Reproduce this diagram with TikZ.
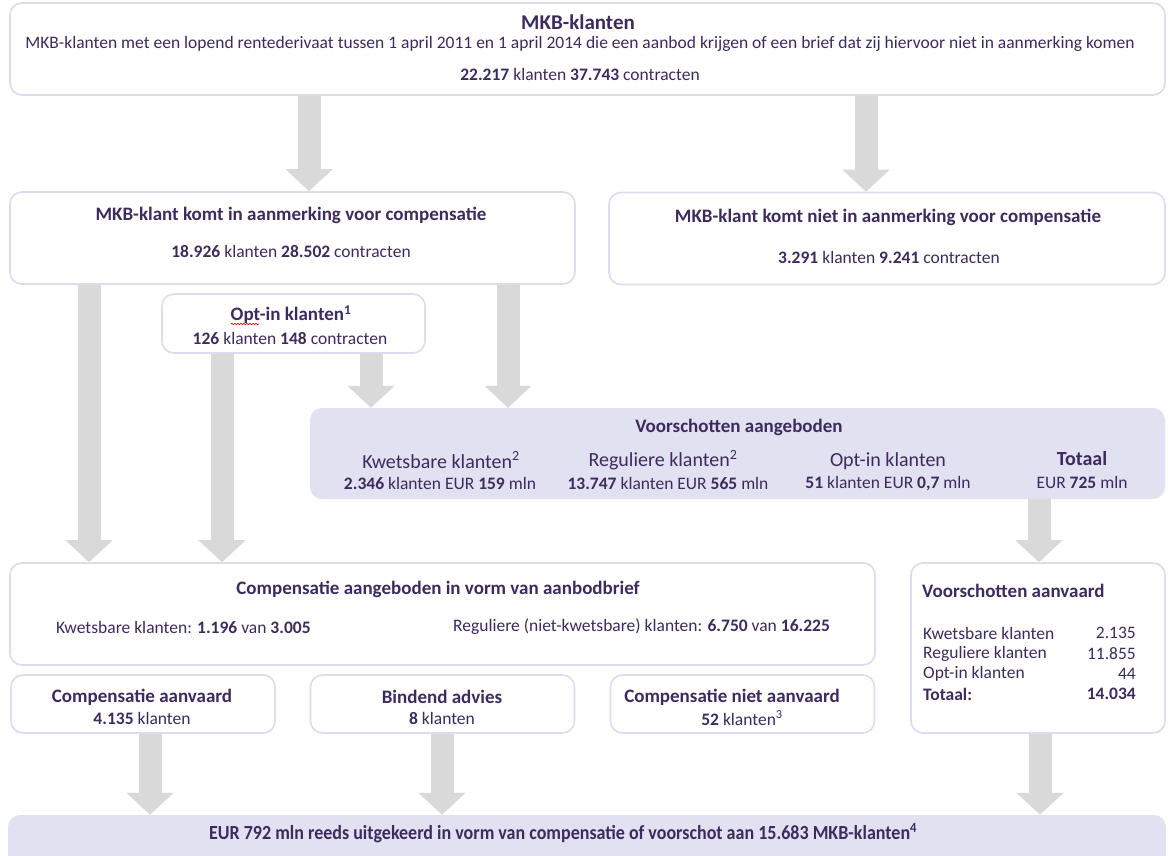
\documentclass[tikz,border=0pt]{standalone}
\usepackage{fontspec}
\setmainfont{Carlito}
\usetikzlibrary{arrows.meta,decorations.pathmorphing}
\definecolor{txt}{HTML}{3D2B5E}
\definecolor{bord}{HTML}{DCDCF0}
\definecolor{fillv}{HTML}{E1E1F1}
\definecolor{arr}{HTML}{D9D9D9}
\begin{document}
\begin{tikzpicture}[x=1pt,y=-1pt,
  box/.style={draw=bord,line width=1.6pt,rounded corners=12pt,fill=white,inner sep=0pt},
  fbox/.style={fill=fillv,rounded corners=12pt,inner sep=0pt},
  barrow/.style={draw=arr,line width=23pt,-{Triangle[width=46pt,length=22pt]}},
  t/.style={text=txt,inner sep=0pt,font=\fontsize{17.5}{20}\selectfont},
  tb/.style={text=txt,inner sep=0pt,font=\fontsize{19}{22}\selectfont\bfseries},
  tl/.style={text=txt,inner sep=0pt,font=\fontsize{20}{23}\selectfont},
  tlb/.style={text=txt,inner sep=0pt,font=\fontsize{20}{23}\selectfont\bfseries}
]
\fill[white] (0,0) rectangle (1168,855);
\useasboundingbox (0,0) rectangle (1168,855);

% boxes
\node[box,minimum width=1155pt,minimum height=92pt] (top) at (587.5,49) {};
\node[box,minimum width=565pt,minimum height=92pt] (elig) at (292.5,238) {};
\node[box,minimum width=556pt,minimum height=92pt] (nelig) at (887,238.5) {};
\node[box,minimum width=263pt,minimum height=59pt] (optin) at (293.5,323.5) {};
\node[fbox,minimum width=855pt,minimum height=91pt] (vaang) at (737.5,453.5) {};
\node[box,minimum width=865pt,minimum height=102pt] (caang) at (442.5,614) {};
\node[box,minimum width=254pt,minimum height=170pt] (vaanv) at (1038,648) {};
\node[box,minimum width=264pt,minimum height=58pt] (cav) at (143,704) {};
\node[box,minimum width=264pt,minimum height=58pt] (bind) at (442.5,704) {};
\node[box,minimum width=264pt,minimum height=58pt] (cnav) at (742.5,704) {};
\node[fbox,minimum width=1158pt,minimum height=60pt] (bot) at (587,845) {};

% arrows
\draw[barrow] (top.south -| 309,0) -- (elig.north -| 309,0);
\draw[barrow] (top.south -| 866,0) -- (nelig.north -| 866,0);
\draw[barrow] (elig.south -| 89,0) -- (caang.north -| 89,0);
\draw[barrow] (optin.south -| 222,0) -- (caang.north -| 222,0);
\draw[barrow] (optin.south -| 371,0) -- (vaang.north -| 371,0);
\draw[barrow] (elig.south -| 508,0) -- (vaang.north -| 508,0);
\draw[barrow] (vaang.south -| 1039,0) -- (vaanv.north -| 1039,0);
\draw[barrow] (cav.south -| 150,0) -- (bot.north -| 150,0);
\draw[barrow] (bind.south -| 442,0) -- (bot.north -| 442,0);
\draw[barrow] (vaanv.south -| 1040,0) -- (bot.north -| 1040,0);

% texts
\node[tb,font=\fontsize{21}{24}\selectfont\bfseries] (topT) at (578,22) {MKB-klanten};
\node[t] (topL) at (580,44) {MKB-klanten met een lopend rentederivaat tussen 1 april 2011 en 1 april 2014 die een aanbod krijgen of een brief dat zij hiervoor niet in aanmerking komen};
\node[t] (topN) at (580,74) {\textbf{22.217} klanten \textbf{37.743} contracten};

\node[tb] (eligT) at (291,215) {MKB-klant komt in aanmerking voor compensatie};
\node[t] (eligN) at (291,251) {\textbf{18.926} klanten \textbf{28.502} contracten};

\node[tb] (neligT) at (888,217) {MKB-klant komt niet in aanmerking voor compensatie};
\node[t] (neligN) at (889,257) {\textbf{3.291} klanten \textbf{9.241} contracten};

\node[tb] (optT) at (291,315) {Opt-in klanten\textsuperscript{1}};
\node[t] (optN) at (290,338) {\textbf{126} klanten \textbf{148} contracten};
\draw[red!85!black,line width=0.6pt,decorate,decoration={snake,amplitude=0.8pt,segment length=3pt}] (231,324) -- (259,324);

\node[tb] (vaT) at (739,427) {Voorschotten aangeboden};
\node[tl] (vaK1) at (441,460) {Kwetsbare klanten\textsuperscript{2}};
\node[t] (vaK2) at (440,483) {\textbf{2.346} klanten EUR \textbf{159} mln};
\node[tl] (vaR1) at (663,460) {Reguliere klanten\textsuperscript{2}};
\node[t] (vaR2) at (668,483) {\textbf{13.747} klanten EUR \textbf{565} mln};
\node[tl] (vaO1) at (888,461) {Opt-in klanten};
\node[t] (vaO2) at (888,484) {\textbf{51} klanten EUR \textbf{0,7} mln};
\node[tlb] (vaTo1) at (1082,459) {Totaal};
\node[t] (vaTo2) at (1082,482) {EUR \textbf{725} mln};

\node[tb] (caT) at (438,589) {Compensatie aangeboden in vorm van aanbodbrief};
\node[t,anchor=west] (caK) at (56,627) {Kwetsbare klanten: \textbf{1.196} van \textbf{3.005}};
\node[t,anchor=west] (caR) at (453,627) {Reguliere (niet-kwetsbare) klanten: \textbf{6.750} van \textbf{16.225}};

\node[tb,anchor=west] (vvT) at (922,591) {Voorschotten aanvaard};
\node[t,anchor=west] (vv1) at (923,633) {Kwetsbare klanten};
\node[t,anchor=east] (vv1n) at (1136,633) {2.135};
\node[t,anchor=west] (vv2) at (923,653.5) {Reguliere klanten};
\node[t,anchor=east] (vv2n) at (1136,653.5) {11.855};
\node[t,anchor=west] (vv3) at (923,674) {Opt-in klanten};
\node[t,anchor=east] (vv3n) at (1136,674) {44};
\node[tb,font=\fontsize{17.5}{20}\selectfont\bfseries,anchor=west] (vv4) at (923,694) {Totaal:};
\node[tb,font=\fontsize{17.5}{20}\selectfont\bfseries,anchor=east] (vv4n) at (1136,694) {14.034};

\node[tb] (cavT) at (142,697) {Compensatie aanvaard};
\node[t] (cavN) at (142,718) {\textbf{4.135} klanten};
\node[tb] (bindT) at (442,697) {Bindend advies};
\node[t] (bindN) at (442,718) {\textbf{8} klanten};
\node[tb] (cnavT) at (732,697) {Compensatie niet aanvaard};
\node[t] (cnavN) at (742,718) {\textbf{52} klanten\textsuperscript{3}};

\node[tb,font=\fontsize{20}{23}\selectfont\bfseries,xscale=0.9] (botT) at (563,833) {EUR 792 mln reeds uitgekeerd in vorm van compensatie of voorschot aan 15.683 MKB-klanten\textsuperscript{4}};
\end{tikzpicture}
\end{document}
